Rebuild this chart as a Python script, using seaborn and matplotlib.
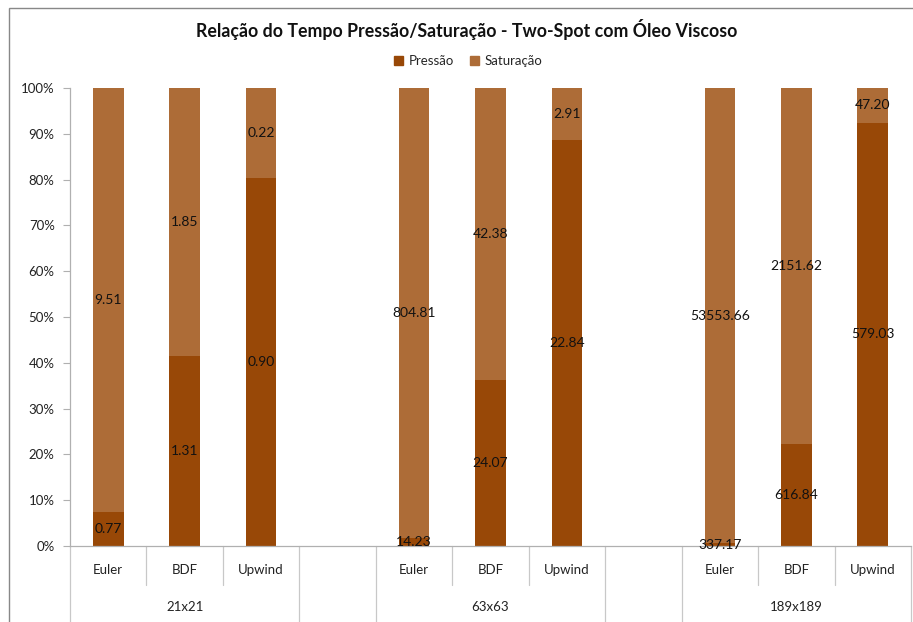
import matplotlib
matplotlib.use("Agg")
import matplotlib.pyplot as plt
import matplotlib.transforms as mtransforms
from matplotlib.patches import Rectangle, Patch
import seaborn as sns
import pandas as pd

# Run times (s) per mesh and method
grids = ["21x21", "63x63", "189x189"]
methods = ["Euler", "BDF", "Upwind"]
pressao = [0.77, 1.31, 0.90, 14.23, 24.07, 22.84, 337.17, 616.84, 579.03]
saturacao = [9.51, 1.85, 0.22, 804.81, 42.38, 2.91, 53553.66, 2151.62, 47.20]
series = ["Pressão", "Saturação"]
colors = ["#984807", "#AD6C37"]
yticks = [0, 10, 20, 30, 40, 50, 60, 70, 80, 90, 100]

rows = []
for gi, g in enumerate(grids):
    for mi, m in enumerate(methods):
        k = gi * 3 + mi
        rows.append({"grid": g, "method": m, "slot": f"{g} {m}",
                     "Pressão": pressao[k], "Saturação": saturacao[k]})
df = pd.DataFrame(rows)
df["total"] = df["Pressão"] + df["Saturação"]
df["p_share"] = df["Pressão"] / df["total"] * 100
df["full"] = 100.0

# category slots, with an empty slot between meshes
order = []
for gi, g in enumerate(grids):
    if gi:
        order.append(f"gap{gi}")
    order += [f"{g} {m}" for m in methods]
pos = {s: i for i, s in enumerate(order)}

sns.set_style("white")
plt.rcParams["font.family"] = ["Lato", "DejaVu Sans"]

FS = 9.5
W, H = 913, 622
fig = plt.figure(figsize=(W / 100, H / 100), dpi=100)
ax = fig.add_axes([70 / W, 1 - 546 / H, (911 - 70) / W, (546 - 88) / H])

sns.barplot(data=df, x="slot", y="full", order=order, color=colors[1],
            saturation=1, width=0.4, errorbar=None, linewidth=0, ax=ax)
sns.barplot(data=df, x="slot", y="p_share", order=order, color=colors[0],
            saturation=1, width=0.4, errorbar=None, linewidth=0, ax=ax)

ax.set_xlim(-0.5, len(order) - 0.5)
ax.set_ylim(0, 100)
ax.set_yticks(yticks)
ax.set_yticklabels([f"{t}%" for t in yticks], fontsize=FS, color="#222222")
ax.set_xticks([])
ax.set_xlabel("")
ax.set_ylabel("")
ax.tick_params(axis="y", length=5, width=0.8, color="#B0B0B0", pad=6, left=True)

for side in ["top", "right"]:
    ax.spines[side].set_visible(False)
for side in ["left", "bottom"]:
    ax.spines[side].set_color("#B0B0B0")
    ax.spines[side].set_linewidth(0.9)

# segment value labels
for _, r in df.iterrows():
    x = pos[r["slot"]]
    p = r["p_share"]
    ax.text(x, p / 2, f"{r['Pressão']:.2f}", ha="center", va="center",
            fontsize=FS + 0.5, color="#111111")
    ax.text(x, p + (100 - p) / 2, f"{r['Saturação']:.2f}", ha="center",
            va="center", fontsize=FS + 0.5, color="#111111")

# two-level category axis
trans = mtransforms.blended_transform_factory(ax.transData, ax.transAxes)
short_y = -(585 - 546) / 458
full_y = -(640 - 546) / 458
line_kw = dict(color="#C8C8C8", lw=0.9, transform=trans, clip_on=False)
for s, i in pos.items():
    if s.startswith("gap"):
        continue
    ax.text(i, -(570 - 546) / 458, s.split(" ")[1], transform=trans,
            ha="center", va="center", fontsize=FS, color="#222222")
i = 0
for gi, g in enumerate(grids):
    if gi:
        i += 1
    start = i
    for j in range(1, 3):
        ax.plot([start + j - 0.5] * 2, [0, short_y], **line_kw)
    ax.text(start + 1, -(607 - 546) / 458, g, transform=trans,
            ha="center", va="center", fontsize=FS, color="#222222")
    i += 3
for x in [-0.5, 2.5, 3.5, 6.5, 7.5, 10.5]:
    ax.plot([x, x], [0, full_y], **line_kw)

# title and legend
fig.text(467 / W, 1 - 30 / H, "Relação do Tempo Pressão/Saturação - Two-Spot com Óleo Viscoso",
         ha="center", va="center", fontsize=12.8, fontweight="bold", color="#111111")
handles = [Patch(facecolor=c, edgecolor=c) for c in colors]
fig.legend(handles, series, loc="center", bbox_to_anchor=(468 / W, 1 - 61 / H),
           ncol=2, frameon=False, fontsize=FS, handlelength=0.7, handleheight=0.7,
           handletextpad=0.4, columnspacing=1.2)

# chart area border
fig.patches.append(Rectangle((9 / W, -0.05), 1.2, 1 - 8 / H + 0.05,
                             transform=fig.transFigure, fill=False,
                             edgecolor="#888888", lw=1.0))

fig.savefig("out.png", dpi=100)
